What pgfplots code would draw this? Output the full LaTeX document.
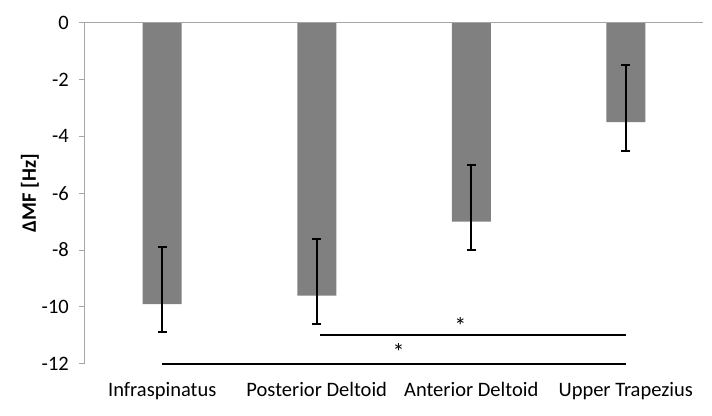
\documentclass[border=0pt]{standalone}
\usepackage{pgfplots}
\pgfplotsset{compat=1.18}
\usepackage{fontspec}
\setmainfont{Carlito}
\definecolor{barg}{HTML}{808080}
\definecolor{axg}{HTML}{A6A6A6}
\newcommand{\ff}{\fontsize{20.5pt}{24pt}\selectfont}
\begin{document}
\begin{tikzpicture}
\useasboundingbox (-85pt,-51.3pt) rectangle (627pt,363.7pt);
\begin{axis}[
  scale only axis,
  width=618pt, height=341pt,
  xmin=-0.5, xmax=3.5, ymin=-12, ymax=0,
  clip=false,
  axis x line=none,
  axis y line*=left,
  y axis line style={axg, line width=1pt},
  ytick={-12,-10,...,0},
  yticklabels={-12,-10,-8,-6,-4,-2,0},
  ytick style={axg, line width=1pt},
  tick align=outside,
  major tick length=6pt,
  yticklabel style={font=\ff, inner sep=0pt, xshift=-10pt},
  ylabel={\textbf{ΔMF [Hz]}},
  ylabel style={at={(axis description cs:-0.089,0.5)}, anchor=center, font=\ff},
  /pgf/number format/assume math mode=true,
]
\addplot[ybar, bar width=39pt, fill=barg, draw=none,
  error bars/.cd, y dir=both, y explicit,
  error bar style={black, line width=2pt},
  error mark options={rotate=90, mark size=4.5pt, black, line width=2pt}]
coordinates {
 (0,-9.9) += (0,2) -= (0,1)
 (1,-9.6) += (0,2) -= (0,1)
 (2,-7) += (0,2) -= (0,1)
 (3,-3.5) += (0,2) -= (0,1)
};
\addplot[black, line width=2pt, mark=none] coordinates {(1.02,-11) (3,-11)};
\addplot[black, line width=2pt, mark=none] coordinates {(0,-12) (3,-12)};
\draw[axg, line width=1pt] (rel axis cs:0,1) -- (rel axis cs:1,1);
\node[font=\fontsize{24pt}{28pt}\selectfont] at (axis cs:1.93,-10.68) {*};
\node[font=\fontsize{24pt}{28pt}\selectfont] at (axis cs:1.53,-11.58) {*};
\node[font=\ff, anchor=base] at (axis cs:0,-13.17) {Infraspinatus};
\node[font=\ff, anchor=base] at (axis cs:1,-13.17) {Posterior Deltoid};
\node[font=\ff, anchor=base] at (axis cs:2,-13.17) {Anterior Deltoid};
\node[font=\ff, anchor=base] at (axis cs:3,-13.17) {Upper Trapezius};
\end{axis}
\end{tikzpicture}
\end{document}
